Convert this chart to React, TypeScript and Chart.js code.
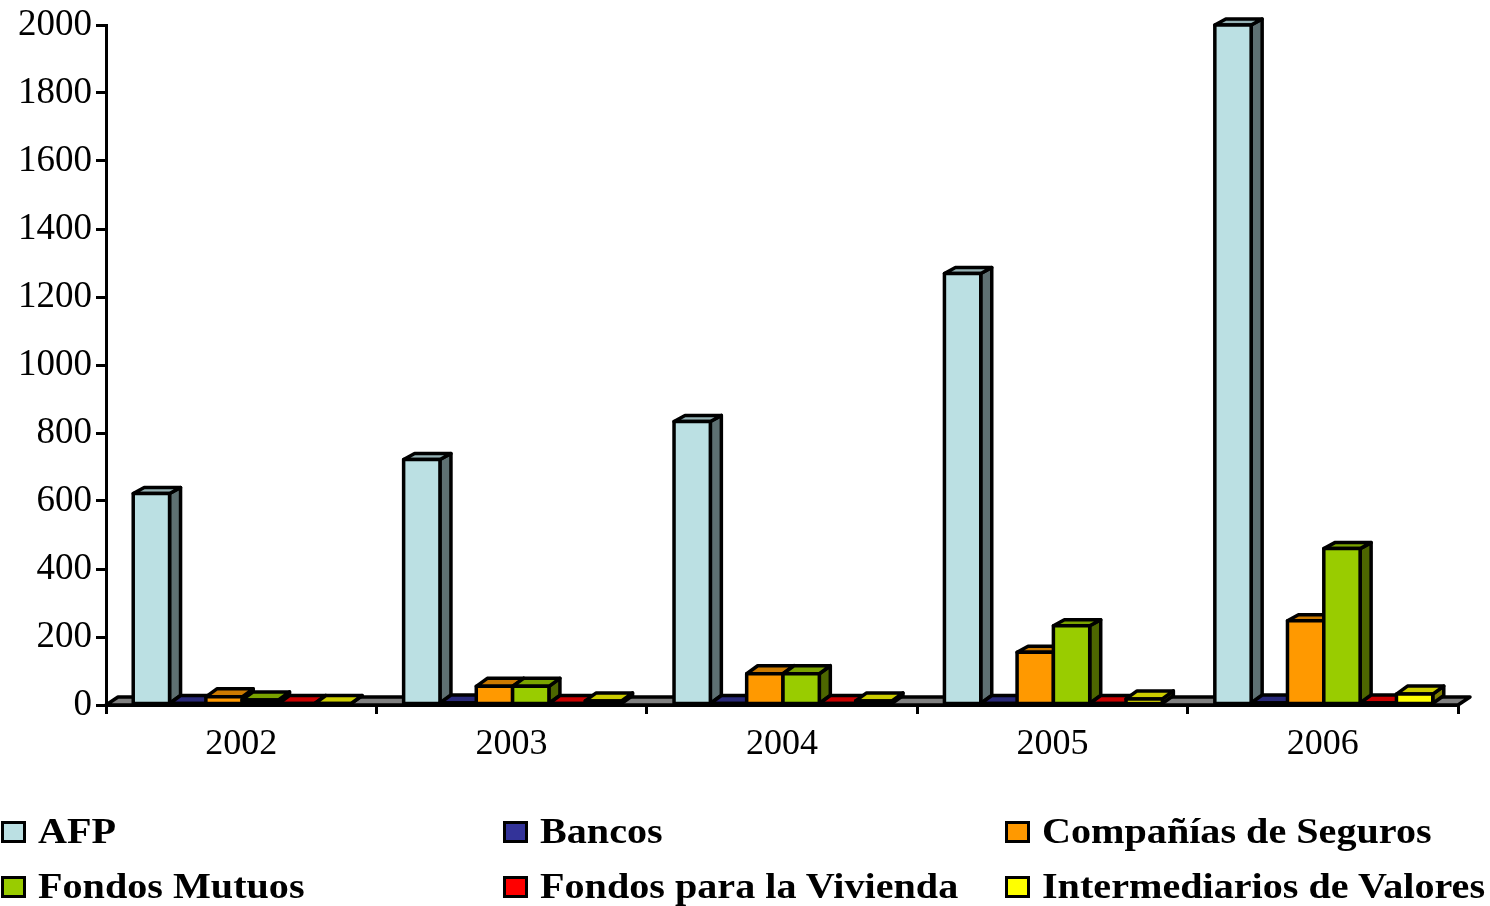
import React, { useEffect, useRef } from "react";
import { Chart, registerables } from "chart.js";

Chart.register(...registerables);

const years = ["2002", "2003", "2004", "2005", "2006"];
const afp = [622, 722, 834, 1269, 2000];
const bancos = [3, 6, 1, 3, 6];
const seguros = [24, 55, 92, 155, 248];
const mutuos = [15, 55, 92, 233, 460];
const vivienda = [1, 1, 1, 3, 6];
const intermediarios = [1, 12, 12, 18, 32];

const names = ["AFP", "Bancos", "Compañías de Seguros", "Fondos Mutuos", "Fondos para la Vivienda", "Intermediarios de Valores"];
const series = [afp, bancos, seguros, mutuos, vivienda, intermediarios];
const fronts = ["#BBE0E3", "#333399", "#FF9900", "#99CC00", "#FF0000", "#FFFF00"];
const tops = ["#96B3B6", "#29297A", "#CC7A00", "#7AA300", "#CC0000", "#CCCC00"];
const sides = ["#5E7072", "#1A1A4D", "#804D00", "#4D6600", "#800000", "#808000"];

const LEG_X = [1, 503, 1005];
const LEG_Y = [821, 876];
const SERIF = '"Liberation Serif", serif';

const depth3d = {
  id: "depth3d",
  beforeDatasetsDraw(chart: any) {
    const { ctx, chartArea: a } = chart;
    const dx = 11;
    const poly = (pts: number[][], fill: string) => {
      ctx.beginPath();
      pts.forEach((p, i) => (i ? ctx.lineTo(p[0], p[1]) : ctx.moveTo(p[0], p[1])));
      ctx.closePath();
      ctx.fillStyle = fill;
      ctx.fill();
      ctx.stroke();
    };
    ctx.save();
    ctx.strokeStyle = "#000";
    ctx.lineWidth = 3.5;
    ctx.lineJoin = "round";
    poly([[a.left, a.bottom], [a.left + 12, a.bottom - 8], [a.right + 12, a.bottom - 8], [a.right, a.bottom]], "#808080");
    series.forEach((_, i) => {
      chart.getDatasetMeta(i).data.forEach((bar: any) => {
        const p = bar.getProps(["x", "y", "base", "width"], true);
        const l = p.x - p.width / 2 + 1;
        const r = p.x + p.width / 2 + 1;
        const base = p.base;
        const top = Math.min(p.y, base);
        const dy = base - top > 45 ? 6 : 8;
        poly([[r, top], [r + dx, top - dy], [r + dx, base - 8], [r, base]], sides[i]);
        poly([[l, top], [l + dx, top - dy], [r + dx, top - dy], [r, top]], tops[i]);
        ctx.fillStyle = fronts[i];
        ctx.fillRect(l, top, p.width, base - top);
        ctx.strokeRect(l, top, p.width, base - top);
      });
    });
    ctx.restore();
  },
  beforeDatasetDraw() {
    return false;
  },
};

export default function App() {
  const ref = useRef<HTMLCanvasElement>(null);
  useEffect(() => {
    const chart = new Chart(ref.current as HTMLCanvasElement, {
      type: "bar",
      data: {
        labels: years,
        datasets: series.map((data, i) => ({
          label: names[i],
          data,
          backgroundColor: fronts[i],
          borderColor: "#000",
          borderWidth: 3,
          categoryPercentage: 0.806,
          barPercentage: 1,
        })),
      },
      options: {
        responsive: false,
        animation: false,
        layout: { autoPadding: false, padding: { top: 25, right: 32, bottom: 0, left: 0 } },
        plugins: { legend: { display: false }, tooltip: { enabled: false }, title: { display: false } },
        scales: {
          x: {
            afterFit: (s: any) => { s.height = 201; },
            grid: { drawOnChartArea: false, color: "#000", lineWidth: 3, tickLength: 9 },
            border: { color: "#000", width: 3 },
            ticks: { color: "#000", font: { family: SERIF, size: 36 }, padding: 9, maxRotation: 0 },
          },
          y: {
            min: 0,
            max: 2000,
            afterFit: (s: any) => { s.width = 106; },
            grid: { drawOnChartArea: false, color: "#000", lineWidth: 3, tickLength: 10 },
            border: { color: "#000", width: 3 },
            ticks: { color: "#000", stepSize: 200, font: { family: SERIF, size: 37, lineHeight: 1 }, padding: 4, callback: (v: any) => String(v) },
          },
        },
      },
      plugins: [depth3d],
    } as any);
    return () => chart.destroy();
  }, []);

  return (
    <div style={{ position: "absolute", left: 0, top: 0, width: 1490, height: 906, overflow: "hidden", background: "#fff" }}>
      <canvas ref={ref} width={1490} height={906} style={{ display: "block" }} />
      {names.map((n, i) => {
        const x = LEG_X[i % 3];
        const y = LEG_Y[Math.floor(i / 3)];
        return (
          <React.Fragment key={n}>
            <div style={{ position: "absolute", left: x, top: y, width: 25, height: 22, boxSizing: "border-box", border: "3px solid #000", background: fronts[i] }} />
            <div style={{ position: "absolute", left: x + 37, top: y - 12, font: `bold 36px ${SERIF}`, lineHeight: "44px", whiteSpace: "nowrap", color: "#000", transform: "scaleX(1.115)", transformOrigin: "left center" }}>{n}</div>
          </React.Fragment>
        );
      })}
    </div>
  );
}
